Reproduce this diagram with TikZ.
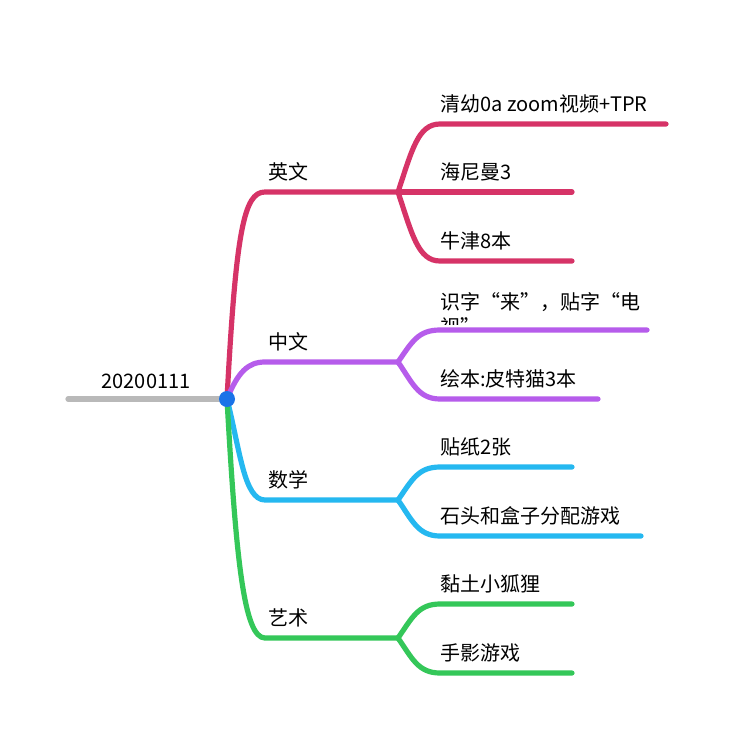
\documentclass[tikz,border=0pt]{standalone}
\usepackage{fontspec}
\setmainfont{Noto Sans CJK SC}
\usetikzlibrary{positioning}
\definecolor{cred}{HTML}{D63367}
\definecolor{cpurple}{HTML}{B65CEB}
\definecolor{cblue}{HTML}{25B8F0}
\definecolor{cgreen}{HTML}{34C759}
\definecolor{cdot}{HTML}{1A73E8}
\begin{document}
\begin{tikzpicture}[
    x=0.75pt, y=-0.75pt,
    branch/.style={line width=3.9pt, line cap=round},
    lbl/.style={anchor=south west, inner sep=0pt, font=\fontsize{15}{19}\selectfont},
]
    \useasboundingbox[fill=white] (0,0) rectangle (735,743);

    % root
    \coordinate (root) at (227,399);
    \draw[branch, gray!55] (68,399) coordinate (start) -- (root);
    \node[lbl, anchor=south] (date) at (146,389) {20200111};

    % main branches
    \coordinate (en) at (265,192);  \coordinate (enfork) at (398,192);
    \coordinate (zh) at (265,362);  \coordinate (zhfork) at (398,362);
    \coordinate (ma) at (265,500);  \coordinate (mafork) at (398,500);
    \coordinate (ar) at (265,638);  \coordinate (arfork) at (398,638);

    \draw[branch, cred] (root) .. controls (236,230) and (244,192) .. (en) -- (enfork);
    \draw[branch, cpurple] (root) .. controls (238,372) and (248,362) .. (zh) -- (zhfork);
    \draw[branch, cblue] (root) .. controls (240,450) and (244,500) .. (ma) -- (mafork);
    \draw[branch, cgreen] (root) .. controls (236,560) and (244,638) .. (ar) -- (arfork);

    \node[lbl] (enlbl) at (268,181) {英文};
    \node[lbl] (zhlbl) at (268,351) {中文};
    \node[lbl] (malbl) at (268,489) {数学};
    \node[lbl] (arlbl) at (268,627) {艺术};

    % children of 英文
    \draw[branch, cred] (enfork) .. controls (412,150) and (418,124) .. (440,124) -- (666,124);
    \draw[branch, cred] (enfork) -- (572,192);
    \draw[branch, cred] (enfork) .. controls (412,234) and (418,261) .. (440,261) -- (572,261);
    \node[lbl] (en1) at (440,113) {清幼0a zoom视频+TPR};
    \node[lbl] (en2) at (440,181) {海尼曼3};
    \node[lbl] (en3) at (440,250) {牛津8本};

    % children of 中文
    \begin{scope}
      \clip (430,280) rectangle (700,324);
      \node[lbl, anchor=north west, align=left] (zh1) at (440,292) {识字“来”，贴字“电\\视”};
    \end{scope}
    \draw[branch, cpurple] (zhfork) .. controls (412,342) and (418,330) .. (440,330) -- (647,330);
    \draw[branch, cpurple] (zhfork) .. controls (412,382) and (418,399) .. (440,399) -- (598,399);
    \node[lbl] (zh2) at (440,388) {绘本:皮特猫3本};

    % children of 数学
    \draw[branch, cblue] (mafork) .. controls (412,480) and (418,467) .. (440,467) -- (572,467);
    \draw[branch, cblue] (mafork) .. controls (412,520) and (418,536) .. (440,536) -- (641,536);
    \node[lbl] (ma1) at (440,456) {贴纸2张};
    \node[lbl] (ma2) at (440,525) {石头和盒子分配游戏};

    % children of 艺术
    \draw[branch, cgreen] (arfork) .. controls (412,618) and (418,604) .. (440,604) -- (572,604);
    \draw[branch, cgreen] (arfork) .. controls (412,658) and (418,673) .. (440,673) -- (572,673);
    \node[lbl] (ar1) at (440,593) {黏土小狐狸};
    \node[lbl] (ar2) at (440,662) {手影游戏};

    \fill[cdot] (root) circle (8);
\end{tikzpicture}
\end{document}
